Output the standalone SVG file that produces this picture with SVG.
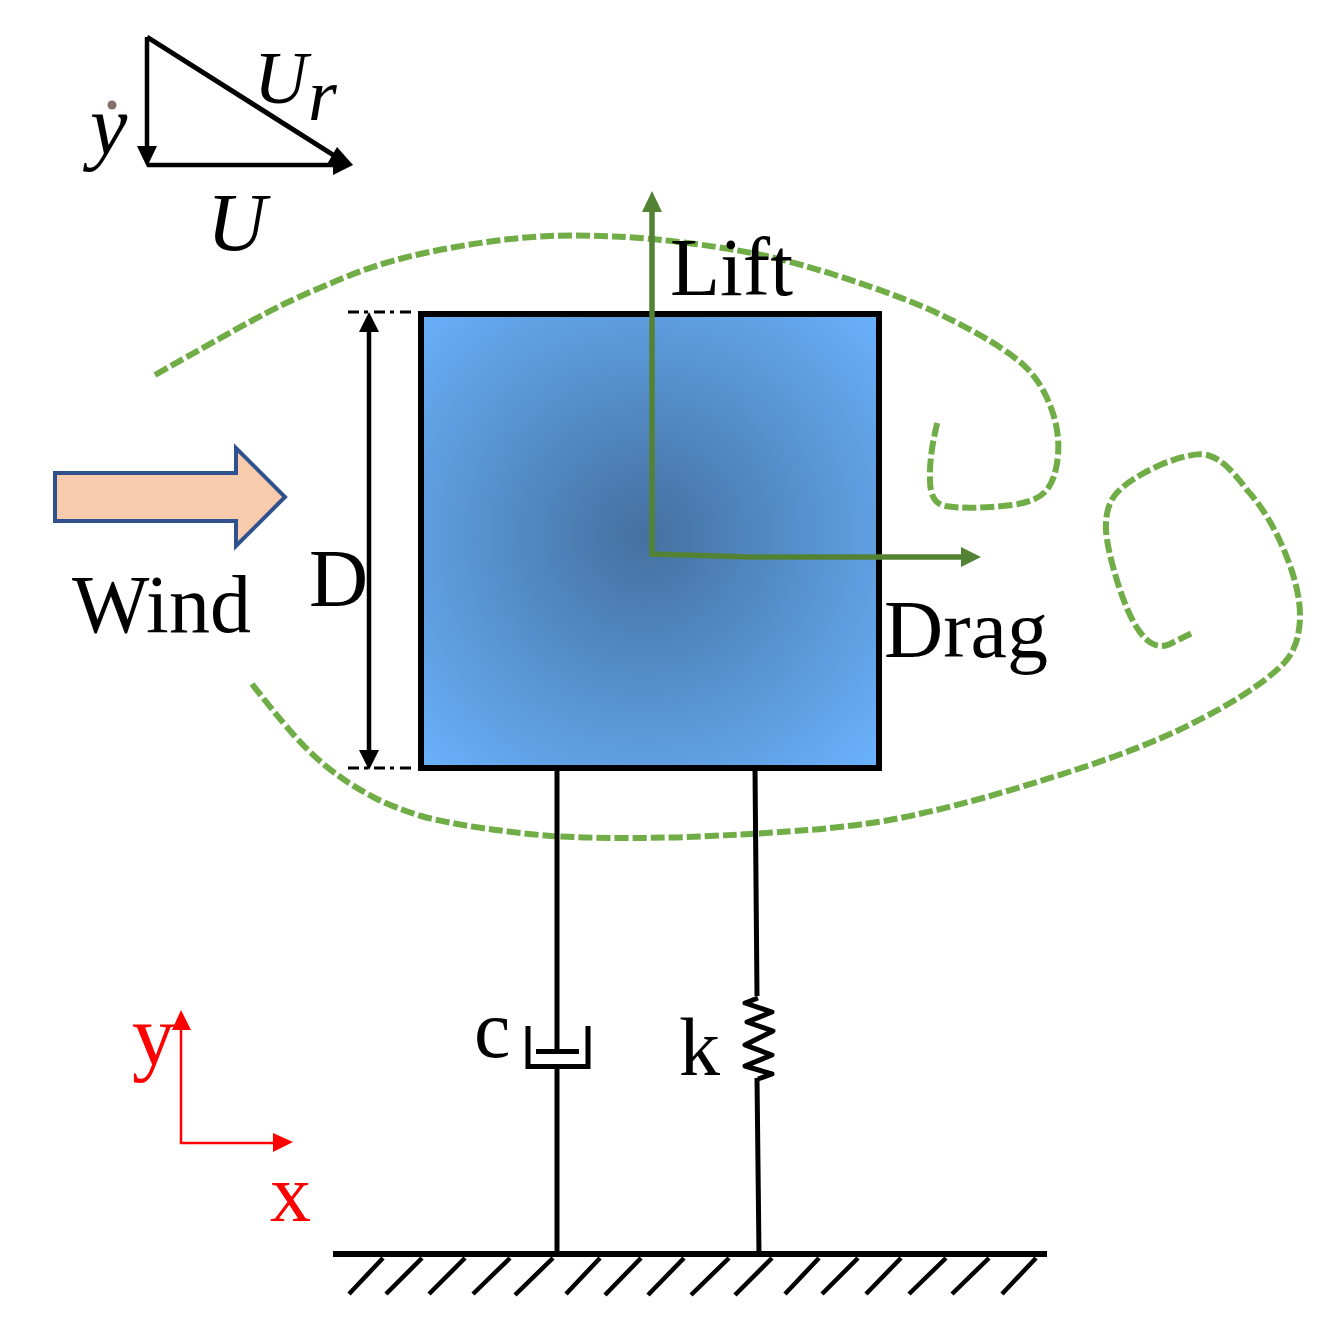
<svg xmlns="http://www.w3.org/2000/svg" width="1332" height="1323" viewBox="0 0 1332 1323">
<style>
text{font-family:"Liberation Serif","Times New Roman",serif;fill:#000;font-size:82px}
.it{font-style:italic}
.b{fill:none;stroke:#000;stroke-width:5}
.k{fill:none;stroke:#000;stroke-width:4.5}
.h{fill:none;stroke:#000;stroke-width:4.5}
.fl{fill:none;stroke:#70ad47;stroke-width:6;stroke-dasharray:14 4}
.gr{fill:none;stroke:#548235;stroke-width:5.5}
.r{fill:none;stroke:#f00;stroke-width:2.5}
</style>
<defs>
<radialGradient id="g" gradientUnits="userSpaceOnUse" cx="645" cy="535" r="325">
<stop offset="0" stop-color="#44709f"/><stop offset="1" stop-color="#6ab2fd"/>
</radialGradient>
</defs>
<g id="wind">
<path d="M55 473H236V448L285 497L236 546V521H55Z" fill="#f8cbad" stroke="#2f528f" stroke-width="4"/>
<text x="72" y="632">Wind</text>
</g>
<g id="block">
<rect x="421" y="314" width="458" height="454" fill="url(#g)" stroke="#000" stroke-width="6"/>
</g>
<g id="flow">
<path class="fl" d="M155 375Q255 318 282 305Q309 292 344.500 277.500Q380 263 415.500 255Q451 247 487 242Q523 237 549.500 236Q576 235 613.500 236.500Q651 238 695.500 244Q740 250 768.500 256.500Q797 263 835 275Q873 287 906.500 300Q940 313 973.500 331.500Q1007 350 1023.500 365Q1040 380 1050 405Q1060 430 1058 455Q1056 480 1045 492Q1035 502 1012 505Q970 510 945 506Q930 503 930 480Q929 455 938 420"/>
<path class="fl" d="M252 684Q288 730 305 747Q323 765 339 776Q354 787 375 798Q395 808 421 816Q447 823 482 828Q516 833 551 836Q585 838 628 838Q671 838 710 836Q774 833 807 830Q839 828 884 821Q929 813 983 798Q1036 783 1090 765Q1143 747 1179 730Q1214 713 1240 697Q1270 678 1285 662Q1300 645 1300 615Q1300 590 1286 555Q1270 515 1247 490Q1225 460 1210 456Q1197 450 1160 465Q1127 480 1115 495Q1105 508 1106 530Q1107 550 1120 590Q1132 625 1145 638Q1157 650 1170 644L1192 633"/>
</g>
<g id="dim">
<path d="M348 312H412M348 768H412" fill="none" stroke="#000" stroke-width="3" stroke-dasharray="11 5 4 6"/>
<path class="k" d="M369 330V752"/>
<path d="M369 312L379 332H359ZM369 770L379 750H359Z"/>
<text x="309" y="606">D</text>
</g>
<g id="forces">
<path class="gr" d="M652 210V554L750 557H962"/>
<path d="M652 191L662 212H642ZM981 557L961 547V567Z" fill="#548235"/>
<text x="670" y="295">Lift</text>
<text x="884" y="657">Drag</text>
</g>
<g id="triangle">
<path class="k" d="M147 37V148M147 165H335"/>
<path class="b" d="M147 37L338 158"/>
<path d="M147 167L137 146H157ZM353 165L333 175V155Z"/>
<path d="M353 165L326 166L337 147Z"/>
<text class="it" x="90" y="154" style="font-size:84px">y</text>
<circle cx="112" cy="105" r="4.500" fill="#857070"/>
<text class="it" x="254" y="103" style="font-size:74px">U</text>
<text class="it" x="308" y="120" style="font-size:74px">r</text>
<text class="it" x="207" y="250">U</text>
</g>
<g id="supports">
<path class="b" d="M557 768V1052M557 1068V1254"/>
<path class="b" d="M755 768L757 996M757 1078L759 1254"/>
<path class="b" d="M528 1026V1066.500H588V1026M536 1051.500H579"/>
<path class="b" stroke-linejoin="round" d="M758 998L745 1003L772 1012L747 1022L773 1031L745 1045L772 1055L745 1066L772 1074L758 1079"/>
<text x="474" y="1057">c</text>
<text x="679" y="1075">k</text>
</g>
<g id="ground">
<path class="b" style="stroke-width:6" d="M333 1254H1047"/>
<path class="h" d="M349 1294L383 1258M386 1294L422 1258M429 1294L465 1258M473 1294L510 1258M515 1295L553 1258M566 1294L600 1258M605 1295L641 1258M648 1295L684 1258M691 1295L729 1258M735 1295L772 1258M785 1294L819 1258M822 1294L858 1258M866 1294L901 1258M909 1294L946 1258M952 1294L989 1258M1002 1294L1036 1258"/>
</g>
<g id="axes">
<path class="r" d="M181 1028V1143H277"/>
<path d="M181 1010L191 1030H172ZM293 1142L273 1133V1152Z" fill="#f00"/>
<text x="132" y="1064" style="fill:#f00;font-size:86px">y</text>
<text x="270" y="1221" style="fill:#f00">x</text>
</g>
</svg>
